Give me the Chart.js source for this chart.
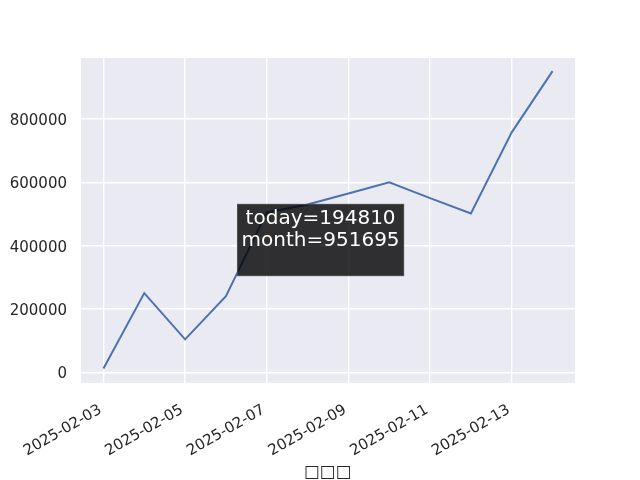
<!DOCTYPE html>
<html>
<head>
<meta charset="utf-8">
<script src="https://cdn.jsdelivr.net/npm/chart.js@4"></script>
<style>
html, body { margin: 0; padding: 0; background: #fff; }
#wrap { width: 640px; height: 480px; }
</style>
</head>
<body>
<div id="wrap"><canvas id="c" width="640" height="480"></canvas></div>
<script>
// dates on the x axis, one per point
var dates = ['2025-02-03', '2025-02-04', '2025-02-05', '2025-02-06', '2025-02-07', '2025-02-08',
  '2025-02-09', '2025-02-10', '2025-02-11', '2025-02-12', '2025-02-13', '2025-02-14'];
var values = [12000, 250000, 104000, 240000, 505000, 530000, 565000, 600000, 550000, 502000, 758000, 951695];
var yTicks = [0, 200000, 400000, 600000, 800000];
var xTickIdx = [0, 2, 4, 6, 8, 10];
var xLabel = '□□□';
var noteLines = ['today=194810', 'month=951695'];

var FONT = "'DejaVu Sans', sans-serif";
var INK = '#262626';

var bgPlugin = {
  id: 'bg',
  beforeDraw: function (chart) {
    var a = chart.chartArea, ctx = chart.ctx;
    ctx.save();
    ctx.fillStyle = '#EAEAF2';
    ctx.fillRect(a.left, a.top, a.right - a.left, a.bottom - a.top);
    ctx.restore();
  }
};

// text box drawn over the plot, placed in axes fractions
var notePlugin = {
  id: 'note',
  afterDatasetsDraw: function (chart) {
    var a = chart.chartArea, ctx = chart.ctx;
    var w = a.right - a.left, h = a.bottom - a.top;
    var x0 = a.left + w * 0.316, y0 = a.top + h * 0.449;
    var bw = w * 0.338, bh = h * 0.222;
    ctx.save();
    ctx.fillStyle = 'rgba(0,0,0,0.8)';
    ctx.fillRect(x0, y0, bw, bh);
    ctx.strokeStyle = 'rgba(80,80,80,0.9)';
    ctx.lineWidth = 1;
    ctx.strokeRect(x0 + 0.5, y0 + 0.5, bw - 1, bh - 1);
    ctx.fillStyle = '#fff';
    ctx.font = '20px ' + FONT;
    ctx.textAlign = 'center';
    ctx.textBaseline = 'middle';
    noteLines.forEach(function (t, i) {
      ctx.fillText(t, x0 + bw / 2, y0 + 14.5 + i * 22);
    });
    ctx.restore();
  }
};

new Chart(document.getElementById('c'), {
  type: 'line',
  data: {
    datasets: [{
      data: values.map(function (v, i) { return { x: i, y: v }; }),
      borderColor: '#4C72B0',
      borderWidth: 2,
      pointRadius: 0,
      fill: false,
      tension: 0
    }]
  },
  options: {
    responsive: false,
    animation: false,
    layout: { padding: { left: 0, right: 65, top: 58, bottom: 0 } },
    plugins: { legend: { display: false }, tooltip: { enabled: false } },
    scales: {
      x: {
        type: 'linear',
        min: -0.55,
        max: 11.55,
        afterBuildTicks: function (s) { s.ticks = xTickIdx.map(function (v) { return { value: v }; }); },
        afterFit: function (s) { s.height = 97; },
        grid: { color: '#fff', lineWidth: 1.4, drawTicks: false },
        border: { display: false },
        ticks: {
          minRotation: 30, maxRotation: 30, padding: 18, labelOffset: -3, autoSkip: false,
          color: INK, font: { family: FONT, size: 15 },
          callback: function (v) { return dates[v]; }
        },
        title: { display: true, text: xLabel, color: INK, font: { family: FONT, size: 16.7 }, padding: { top: 4, bottom: -3 } }
      },
      y: {
        min: -34000,
        max: 993000,
        afterBuildTicks: function (s) { s.ticks = yTicks.map(function (v) { return { value: v }; }); },
        afterFit: function (s) { s.width = 81; },
        grid: { color: '#fff', lineWidth: 1.4, drawTicks: false },
        border: { display: false },
        ticks: {
          padding: 14, labelOffset: 2, color: INK, font: { family: FONT, size: 15 },
          callback: function (v) { return String(v); }
        }
      }
    }
  },
  plugins: [bgPlugin, notePlugin]
});
</script>
</body>
</html>
